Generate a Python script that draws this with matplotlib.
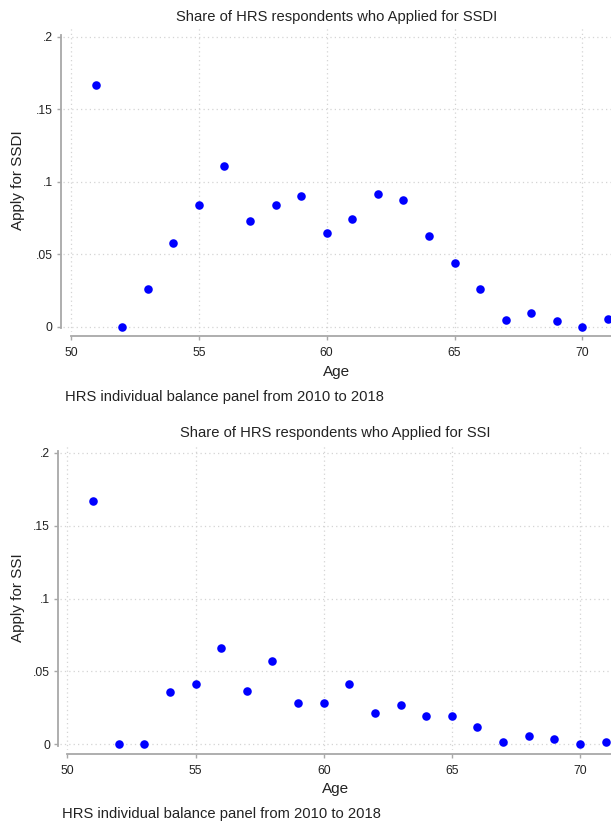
import matplotlib
matplotlib.use("Agg")
import matplotlib.pyplot as plt

plt.rcParams['font.family'] = ['Liberation Sans', 'DejaVu Sans']

ages = [51, 52, 53, 54, 55, 56, 57, 58, 59, 60, 61, 62, 63, 64, 65, 66, 67, 68, 69, 70, 71]
ssdi = [0.1665, 0.0, 0.0261, 0.0578, 0.0837, 0.111, 0.0732, 0.0839, 0.0904, 0.0644, 0.0741,
        0.0917, 0.0872, 0.0626, 0.0436, 0.0257, 0.0048, 0.0092, 0.0037, 0.0, 0.0055]
ssi = [0.1668, 0.0, 0.0, 0.0357, 0.0415, 0.066, 0.0367, 0.0573, 0.028, 0.0286, 0.0412,
       0.0218, 0.0268, 0.0195, 0.0192, 0.0119, 0.0016, 0.0055, 0.0037, 0.0, 0.0018]

xticks = [50, 55, 60, 65, 70]
xticklabels = ["50", "55", "60", "65", "70"]
yticks = [0, 0.05, 0.1, 0.15, 0.2]
yticklabels = ["0", ".05", ".1", ".15", ".2"]

titles = ["Share of HRS respondents who Applied for SSDI",
          "Share of HRS respondents who Applied for SSI"]
ylabels = ["Apply for SSDI", "Apply for SSI"]
xlabel = "Age"
note = "HRS individual balance panel from 2010 to 2018"

W, H = 611, 825
fig = plt.figure(figsize=(W / 100, H / 100), dpi=100)

layouts = [
    dict(left=63, top=28, bottom=332, xlim=(49.69, 71.12), ylim=(-0.0037, 0.206),
         lsp=61, bsp=336, title_y=17, age_y=372, note_x=65, note_y=397),
    dict(left=60, top=445, bottom=750, xlim=(49.71, 71.21), ylim=(-0.0039, 0.2053),
         lsp=58.3, bsp=754, title_y=433, age_y=789, note_x=62, note_y=814),
]

spine_col = '#a8a8a8'
grid_col = '#d4d4d4'
text_col = '#222222'

for L, yvals, title, ylab in zip(layouts, [ssdi, ssi], titles, ylabels):
    ax = fig.add_axes([L['left'] / W, 1 - L['bottom'] / H, (W - L['left']) / W,
                       (L['bottom'] - L['top']) / H])
    ax.scatter(ages, yvals, s=38, color='#0000ff', zorder=3, linewidths=0)
    ax.set_xlim(*L['xlim'])
    ax.set_ylim(*L['ylim'])
    ax.set_xticks(xticks)
    ax.set_xticklabels(xticklabels)
    ax.set_yticks(yticks)
    ax.set_yticklabels(yticklabels)
    ax.grid(True, linestyle=(0, (1, 2.5)), color=grid_col, linewidth=0.9)
    ax.set_axisbelow(True)
    for s in ['top', 'right']:
        ax.spines[s].set_visible(False)
    ax.spines['left'].set_position(('outward', (L['left'] - L['lsp']) * 0.72))
    ax.spines['bottom'].set_position(('outward', (L['bsp'] - L['bottom']) * 0.72))
    ax.spines['left'].set_bounds(-0.001, 0.2015)
    ax.spines['bottom'].set_bounds(50, L['xlim'][1])
    for s in ['left', 'bottom']:
        ax.spines[s].set_color(spine_col)
        ax.spines[s].set_linewidth(1.3)
    ax.tick_params(axis='both', length=3, width=1, color=spine_col,
                   labelsize=8.7, labelcolor=text_col)
    ax.tick_params(axis='y', pad=3)
    ax.tick_params(axis='x', pad=5)
    ax.set_ylabel(ylab, fontsize=11, color=text_col)
    ax.yaxis.set_label_coords((18 - L['left']) / (W - L['left']), 0.5)
    ax.yaxis.label.set_va('center')
    fig.text((L['left'] + W) / 2 / W, 1 - L['title_y'] / H, title, fontsize=10.6,
             ha='center', va='center', color=text_col)
    fig.text((L['left'] + W) / 2 / W, 1 - L['age_y'] / H, xlabel, fontsize=11,
             ha='center', va='center', color=text_col)
    fig.text(L['note_x'] / W, 1 - L['note_y'] / H, note, fontsize=10.6,
             ha='left', va='center', color=text_col)

fig.savefig("out.png", dpi=100)
